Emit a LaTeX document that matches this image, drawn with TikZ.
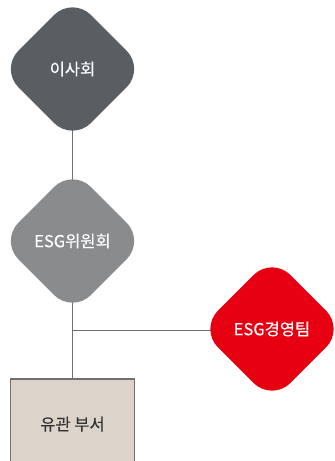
\documentclass[tikz,border=0pt]{standalone}
\usepackage{fontspec}
\newfontfamily\kr[FakeBold=0.3]{Noto Sans CJK KR}
\usetikzlibrary{shapes.geometric,backgrounds}
\definecolor{boardgray}{HTML}{595E63}
\definecolor{committeegray}{HTML}{898B8D}
\definecolor{esgred}{HTML}{E60012}
\definecolor{deptbeige}{HTML}{DCD4CA}
\definecolor{linegray}{HTML}{707070}
\definecolor{textdark}{HTML}{333333}
\begin{document}
\begin{tikzpicture}[x=1pt,y=-1pt,
  txt/.style={font=\kr\fontsize{16.5}{19}\selectfont},
  rdiamond/.style={diamond,aspect=1,minimum width=145pt,minimum height=145pt,
    inner sep=0pt,rounded corners=26pt,txt,text=white},
  dept/.style={rectangle,minimum width=123pt,minimum height=90pt,inner sep=0pt,
    fill=deptbeige,txt,text=textdark},
  conn/.style={draw=linegray,line width=1pt}]
\clip (0,0) rectangle (335,461);
\node[rdiamond,fill=boardgray] (board) at (72.5,69) {이사회};
\node[rdiamond,fill=committeegray] (committee) at (72.5,241) {ESG위원회};
\node[rdiamond,fill=esgred] (team) at (272,329) {ESG경영팀};
\node[dept,anchor=north] (dept) at (72.5,379) {유관 부서};
\coordinate (junction) at (72.5,330);
\draw[draw=linegray,line width=1.2pt] (dept.south west) -- (dept.north west) -- (dept.north east) -- (dept.south east);
\begin{scope}[on background layer]
\draw[conn] (board.center) -- (committee.center) -- (dept.north);
\draw[conn] (junction) -- (junction -| team.center);
\end{scope}
\end{tikzpicture}
\end{document}
